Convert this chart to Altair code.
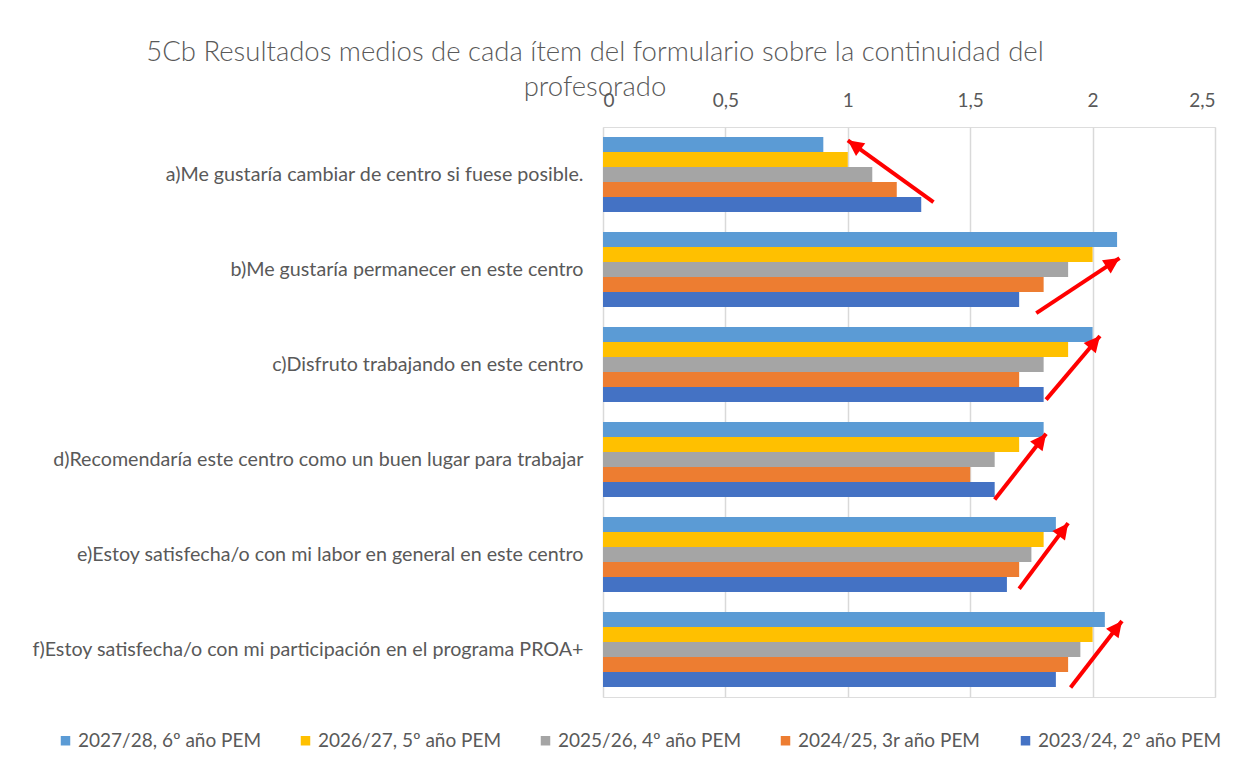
import math
import altair as alt
import pandas as pd

# ---------------- data ----------------
categories = [
    "a)Me gustaría cambiar de centro si fuese posible.",
    "b)Me gustaría permanecer en este centro",
    "c)Disfruto trabajando en este centro ",
    "d)Recomendaría este centro como un buen lugar para trabajar",
    "e)Estoy satisfecha/o con mi labor en general en este centro",
    "f)Estoy satisfecha/o con mi participación en el programa PROA+",
]
series = [
    "2027/28, 6º año PEM",
    "2026/27, 5º año PEM",
    "2025/26, 4º año PEM",
    "2024/25, 3r año PEM",
    "2023/24, 2º año PEM",
]
v_2027_28 = [0.90, 2.10, 2.00, 1.80, 1.85, 2.05]
v_2026_27 = [1.00, 2.00, 1.90, 1.70, 1.80, 2.00]
v_2025_26 = [1.10, 1.90, 1.80, 1.60, 1.75, 1.95]
v_2024_25 = [1.20, 1.80, 1.70, 1.50, 1.70, 1.90]
v_2023_24 = [1.30, 1.70, 1.80, 1.60, 1.65, 1.85]
x_ticks = [0, 0.5, 1, 1.5, 2, 2.5]

# red annotation arrows (x in value units, y in category units counted from the top)
arrow_x_tail = [1.35, 1.77, 1.81, 1.60, 1.70, 1.91]
arrow_x_head = [1.00, 2.11, 2.03, 1.81, 1.90, 2.12]
arrow_y_tail = [0.79, 1.96, 2.87, 3.92, 4.86, 5.90]
arrow_y_head = [0.14, 1.38, 2.20, 3.23, 4.17, 5.20]

# ---------------- styling ----------------
colors = ["#5B9BD5", "#FFC000", "#A5A5A5", "#ED7D31", "#4472C4"]
FONT = "Lato"
TXT = "#595959"
W, H = 612, 570
XMAX = 2.5

values = [v_2027_28, v_2026_27, v_2025_26, v_2024_25, v_2023_24]
rows = []
for s, vals in zip(series, values):
    for c, v in zip(categories, vals):
        rows.append({"categoria": c, "serie": s, "valor": v})
df = pd.DataFrame(rows)

arrows = pd.DataFrame({
    "x0": arrow_x_tail, "x1": arrow_x_head,
    "y0": arrow_y_tail, "y1": arrow_y_head,
})
px_x = W / XMAX
px_y = H / len(categories)
arrows["ang"] = [
    math.degrees(math.atan2((b - a) * px_x, -(d - c) * px_y)) % 360
    for a, b, c, d in zip(arrows.x0, arrows.x1, arrows.y0, arrows.y1)
]

x_scale = alt.Scale(domain=[0, XMAX], nice=False, zero=True)

bars = alt.Chart(df).mark_bar().encode(
    x=alt.X("valor:Q", scale=x_scale,
            axis=alt.Axis(orient="top", values=x_ticks, title=None,
                          labelExpr="replace(toString(datum.value), '.', ',')",
                          labelFont=FONT, labelFontSize=19, labelColor=TXT,
                          labelPadding=17, domain=False, ticks=False,
                          grid=True, gridColor="#D9D9D9", gridWidth=1.5)),
    y=alt.Y("categoria:N", sort=categories,
            scale=alt.Scale(paddingInner=0.21, paddingOuter=0.105),
            axis=alt.Axis(title=None, domain=False, ticks=False,
                          labelFont=FONT, labelFontSize=19.7, labelColor=TXT,
                          labelPadding=20, labelLimit=700)),
    yOffset=alt.YOffset("serie:N", sort=series,
                        scale=alt.Scale(paddingInner=0, paddingOuter=0)),
    color=alt.Color("serie:N",
                    scale=alt.Scale(domain=series, range=colors),
                    legend=alt.Legend(title=None, orient="none",
                                      direction="horizontal",
                                      legendX=-547, legendY=604,
                                      symbolType="square", symbolSize=90,
                                      symbolStrokeWidth=0,
                                      labelFont=FONT, labelFontSize=19,
                                      labelColor=TXT, labelOffset=3,
                                      gridAlign="all", columnPadding=34,
                                      labelLimit=400)),
)

y_arrow = alt.Scale(domain=[0, len(categories)], reverse=True, nice=False, zero=False)

arrow_lines = alt.Chart(arrows).mark_rule(color="#FF0000", strokeWidth=4).encode(
    x=alt.X("x0:Q", scale=x_scale),
    x2="x1:Q",
    y=alt.Y("y0:Q", scale=y_arrow, axis=None),
    y2="y1:Q",
)

arrow_heads = alt.Chart(arrows).mark_point(
    shape="M0,0 L-0.5,1 L0.5,1 Z", filled=True, color="#FF0000",
    opacity=1, size=1000, strokeWidth=0,
).encode(
    x=alt.X("x1:Q", scale=x_scale),
    y=alt.Y("y1:Q", scale=y_arrow, axis=None),
    angle=alt.Angle("ang:Q", scale=None),
)

chart = alt.layer(bars, arrow_lines, arrow_heads).resolve_scale(
    y="independent"
).properties(
    width=W, height=H,
    title=alt.Title(
        text=["5Cb Resultados medios de cada ítem del formulario sobre la continuidad del",
              "profesorado"],
        anchor="middle", dx=-314, dy=14, fontSize=27.5, font=FONT,
        fontWeight=300, color=TXT, lineHeight=35,
    ),
    autosize=alt.AutoSizeParams(type="none"),
    padding={"left": 595, "top": 119, "right": 31, "bottom": 79},
).configure_view(stroke=None).configure(background="white")

chart.save("out.html", embed_options={"renderer": "svg", "actions": False})
